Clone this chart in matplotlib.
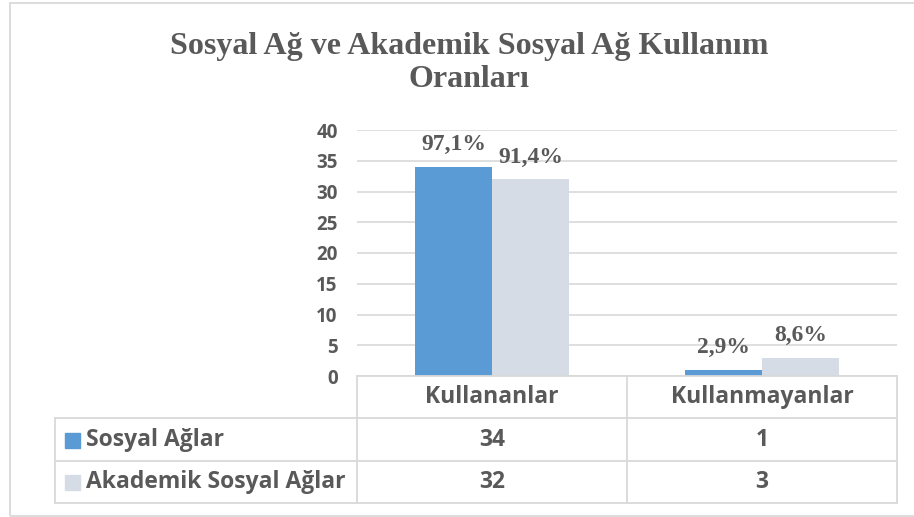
import matplotlib.pyplot as plt
from matplotlib.patches import Rectangle
from matplotlib.lines import Line2D

kategoriler = ["Kullananlar", "Kullanmayanlar"]
seriler = ["Sosyal Ağlar", "Akademik Sosyal Ağlar"]
sosyal = [34, 1]
akademik = [32, 3]
etiket_sosyal = ["97,1%", "2,9%"]
etiket_akademik = ["91,4%", "8,6%"]
yticks = [0, 5, 10, 15, 20, 25, 30, 35, 40]

renkler = ["#5B9BD5", "#D6DCE5"]
yazi = "#595959"
cizgi = "#D9D9D9"

W, H = 914, 517
fig = plt.figure(figsize=(W / 100, H / 100), dpi=100)

def fx(px):
    return px / W

def fy(py):
    return 1 - py / H

# plot area in pixels
left, right, top, bottom = 357, 897, 130, 376
ax = fig.add_axes([fx(left), fy(bottom), fx(right - left), (bottom - top) / H])

w = 0.285
x = range(len(kategoriler))
b1 = ax.bar([i - w / 2 for i in x], sosyal, w, color=renkler[0])
b2 = ax.bar([i + w / 2 for i in x], akademik, w, color=renkler[1])

for bars, labels in ((b1, etiket_sosyal), (b2, etiket_akademik)):
    for bar, lab in zip(bars, labels):
        ax.annotate(lab, (bar.get_x() + bar.get_width() / 2, bar.get_height()),
                    xytext=(0, 12), textcoords="offset points", ha="center",
                    va="baseline", fontsize=17, fontweight="bold",
                    family="Liberation Serif", color=yazi)

ax.set_xlim(-0.5, 1.5)
ax.set_ylim(0, 40)
ax.set_yticks(yticks)
ax.set_yticklabels([str(t) for t in yticks], fontsize=13.5, fontweight="bold",
                   family="Open Sans", color=yazi)
ax.tick_params(axis="y", length=0, pad=14)
ax.set_xticks([])
ax.grid(axis="y", color=cizgi, linewidth=1.2)
ax.set_axisbelow(True)
for s in ax.spines.values():
    s.set_visible(False)

# title
fig.text(0.513, fy(63), "Sosyal Ağ ve Akademik Sosyal Ağ Kullanım\nOranları",
         ha="center", va="center", fontsize=23, fontweight="bold",
         family="Liberation Serif", color=yazi, linespacing=1.2)

# data table under the axis
t_left = 55
cols = [left, 627, right]
rows = [376, 418, 461, 503]

def hline(py, x0, x1):
    fig.add_artist(Line2D([fx(x0), fx(x1)], [fy(py), fy(py)], color=cizgi, lw=1.3))

def vline(px, y0, y1):
    fig.add_artist(Line2D([fx(px), fx(px)], [fy(y0), fy(y1)], color=cizgi, lw=1.3))

hline(rows[0], left, right)
for r in rows[1:]:
    hline(r, t_left, right)
vline(t_left, rows[1], rows[3])
for c in cols:
    vline(c, rows[0], rows[3])

tfont = dict(fontsize=16.5, fontweight="bold", family="Open Sans", color=yazi)
for i, k in enumerate(kategoriler):
    fig.text(fx((cols[i] + cols[i + 1]) / 2), fy((rows[0] + rows[1]) / 2), k,
             ha="center", va="center", **tfont)

for j, (name, vals) in enumerate(zip(seriler, [sosyal, akademik])):
    yc = (rows[j + 1] + rows[j + 2]) / 2
    fig.add_artist(Rectangle((fx(65), fy(yc + 8)), fx(15), 15 / H,
                             color=renkler[j], transform=fig.transFigure))
    fig.text(fx(86), fy(yc), name, ha="left", va="center", **tfont)
    for i, v in enumerate(vals):
        fig.text(fx((cols[i] + cols[i + 1]) / 2), fy(yc), str(v),
                 ha="center", va="center", **tfont)

# chart outer border
fig.add_artist(Rectangle((fx(10), fy(516)), fx(W + 10), (516 - 3) / H,
                         fill=False, edgecolor=cizgi, lw=1.3,
                         transform=fig.transFigure))

fig.savefig("out.png", dpi=100)
